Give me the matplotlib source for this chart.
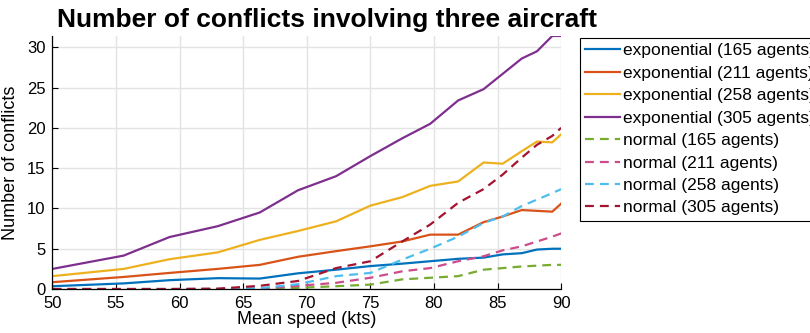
import numpy as np
import matplotlib
matplotlib.use('Agg')
import matplotlib.pyplot as plt

plt.rcParams['font.family'] = ['Liberation Sans', 'DejaVu Sans']

# mean speed samples (kts)
speed = [50, 55.6, 59.2, 63.0, 66.3, 69.3, 72.3, 75.0, 77.5, 79.7,
         81.9, 83.9, 85.4, 86.9, 88.1, 89.3, 90.0]

exp_165 = [0.35, 0.7, 1.1, 1.35, 1.3, 1.95, 2.4, 2.85, 3.15, 3.45,
           3.75, 3.9, 4.3, 4.45, 4.9, 5.0, 5.0]
exp_211 = [0.85, 1.5, 2.0, 2.5, 3.0, 4.0, 4.7, 5.3, 5.9, 6.75,
           6.75, 8.3, 9.0, 9.8, 9.7, 9.6, 10.6]
exp_258 = [1.6, 2.5, 3.7, 4.55, 6.1, 7.2, 8.4, 10.35, 11.4, 12.8,
           13.35, 15.7, 15.55, 17.1, 18.3, 18.2, 19.2]
exp_305 = [2.5, 4.15, 6.45, 7.8, 9.5, 12.25, 14.0, 16.5, 18.7, 20.5,
           23.4, 24.8, 26.7, 28.6, 29.5, 31.4, 31.4]

norm_165 = [0, 0, 0, 0, 0, 0.15, 0.35, 0.55, 1.2, 1.4,
            1.6, 2.4, 2.6, 2.8, 2.9, 3.0, 3.0]
norm_211 = [0, 0, 0, 0, 0.05, 0.4, 0.77, 1.4, 2.2, 2.6,
            3.45, 4.07, 4.8, 5.3, 5.9, 6.5, 6.9]
norm_258 = [0, 0, 0, 0, 0.1, 0.6, 1.6, 2.0, 3.65, 5.0,
            6.5, 8.2, 9.0, 10.3, 11.1, 11.9, 12.4]
norm_305 = [0, 0, 0, 0.05, 0.4, 1.0, 2.6, 3.45, 5.9, 8.0,
            10.7, 12.4, 14.2, 16.3, 17.9, 19.0, 20.0]

labels = ['exponential (165 agents)', 'exponential (211 agents)',
          'exponential (258 agents)', 'exponential (305 agents)',
          'normal (165 agents)', 'normal (211 agents)',
          'normal (258 agents)', 'normal (305 agents)']
series = [exp_165, exp_211, exp_258, exp_305,
          norm_165, norm_211, norm_258, norm_305]
colors = ['#0072BD', '#D95319', '#EDB120', '#7E2F8E',
          '#77AC30', '#CC4C8C', '#4DBEEE', '#A2142F']

fig = plt.figure(figsize=(8.1, 3.33), dpi=100)
ax = fig.add_axes([0.0648, 0.132, 0.628, 0.76])

for i, (y, lab, c) in enumerate(zip(series, labels, colors)):
    ls = '-' if i < 4 else (0, (4, 2.7))
    ax.plot(speed, y, color=c, lw=1.6, linestyle=ls, label=lab)

ax.set_xlim(50, 90)
ax.set_ylim(0, 31.4)
ax.set_xticks(np.arange(50, 91, 5))
ax.set_yticks(np.arange(0, 31, 5))
ax.grid(True, color='#e3e3e3', lw=1)
ax.set_axisbelow(True)
for s in ['top', 'right']:
    ax.spines[s].set_visible(False)
for s in ['left', 'bottom']:
    ax.spines[s].set_linewidth(0.9)
ax.tick_params(direction='in', length=4, width=0.8, labelsize=12, pad=5)

ax.set_xlabel('Mean speed (kts)', fontsize=13, labelpad=0)
ax.set_ylabel('Number of conflicts', fontsize=13, labelpad=6)

fig.text(57 / 810, 1 - 27 / 333, 'Number of conflicts involving three aircraft',
         fontsize=19, fontweight='bold', ha='left', va='baseline')

leg = ax.legend(loc='upper left', bbox_to_anchor=(580 / 810, 1 - 38 / 333),
                bbox_transform=fig.transFigure, fontsize=12.5, frameon=True,
                fancybox=False, edgecolor='black', framealpha=1,
                borderaxespad=0, borderpad=0.3, handlelength=2.0,
                handletextpad=0.2, labelspacing=0.42)
leg.get_frame().set_linewidth(0.8)

fig.savefig('out.png', dpi=100)
